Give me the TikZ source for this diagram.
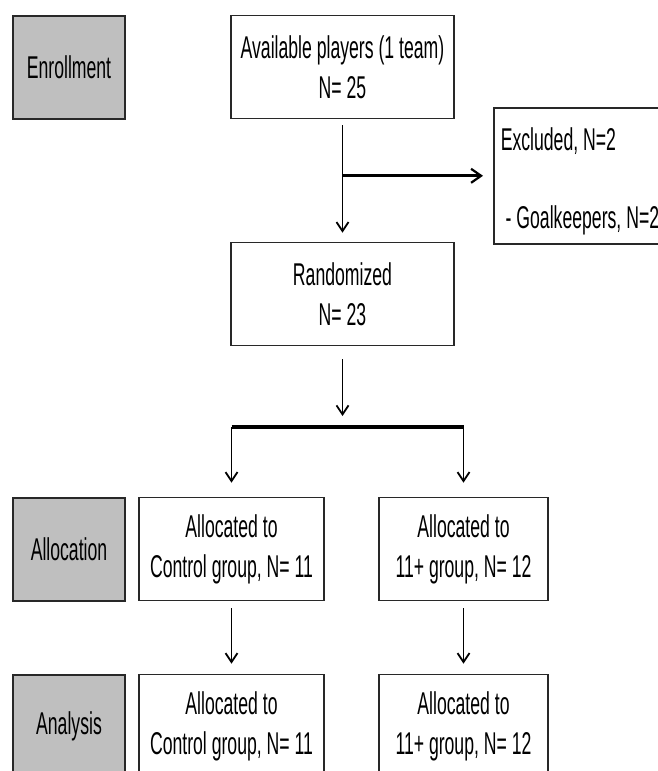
\documentclass[tikz,border=0pt]{standalone}
\usepackage{fontspec}
\setmainfont{Liberation Sans}[FakeStretch=0.56]
\usetikzlibrary{arrows.meta}
\definecolor{stagegray}{RGB}{191,191,191}
\definecolor{edgegray}{RGB}{40,40,40}
\tikzset{
  boxfont/.style={font=\fontsize{31.5}{40}\selectfont},
  stagebox/.style={boxfont, draw=edgegray, line width=2pt, fill=stagegray,
    minimum width=112pt, minimum height=103pt, inner sep=0pt},
  flowbox/.style={boxfont, draw=edgegray, line width=1.6pt, fill=white,
    minimum height=103pt, inner sep=0pt, align=center},
  flow/.style={line width=1.8pt, -{Straight Barb[length=9pt,width=12pt,line width=1.8pt]}},
  sidearrow/.style={line width=3pt, -{Straight Barb[length=10pt,width=14pt,line width=2.2pt]}},
  branch/.style={line width=3.2pt}
}
\begin{document}
\begin{tikzpicture}[x=1pt,y=-1pt]
  \clip (0,0) rectangle (658,771); % keeps the cut-off edges of the page
  % stage labels on the left
  \node[stagebox] (enroll) at (69,67) {Enrollment};
  \node[stagebox] (alloc) at (69,549) {Allocation};
  \node[stagebox] (anal) at (69,726) {Analysis};
  % main flow
  \node[flowbox, minimum width=223pt] (avail) at (342.5,67) {Available players (1 team)\\N= 25};
  \node[flowbox, minimum height=136pt, anchor=north west, align=flush left,
    text width=206pt, inner xsep=7pt] (excl) at (493,107)
    {\rule{0pt}{33pt}Excluded, N=2\\[38pt]\ - Goalkeepers, N=2};
  \node[flowbox, minimum width=223pt] (rand) at (342.5,294) {Randomized\\N= 23};
  \node[flowbox, minimum width=185pt] (ctrlA) at (231.5,549) {Allocated to\\Control group, N= 11};
  \node[flowbox, minimum width=169pt] (plusA) at (463.5,549) {Allocated to\\11+ group, N= 12};
  \node[flowbox, minimum width=185pt] (ctrlB) at (231.5,726) {Allocated to\\Control group, N= 11};
  \node[flowbox, minimum width=169pt] (plusB) at (463.5,726) {Allocated to\\11+ group, N= 12};
  \coordinate (split) at (342.5,427);
  % connectors
  \draw[flow, shorten <=6pt, shorten >=9pt] (avail) -- (rand);
  \draw[sidearrow, shorten >=10pt] (avail.south |- excl.west) -- (excl.west);
  \draw[flow, shorten <=13pt, shorten >=11pt] (rand.south) -- (split);
  \draw[branch] (ctrlA.north |- split) -- (plusA.north |- split);
  \foreach \col in {ctrl,plus} {
    \draw[flow, shorten >=14pt] (\col A.north |- split) -- (\col A.north);
    \draw[flow, shorten <=7pt, shorten >=10pt] (\col A) -- (\col B);
  }
\end{tikzpicture}
\end{document}
